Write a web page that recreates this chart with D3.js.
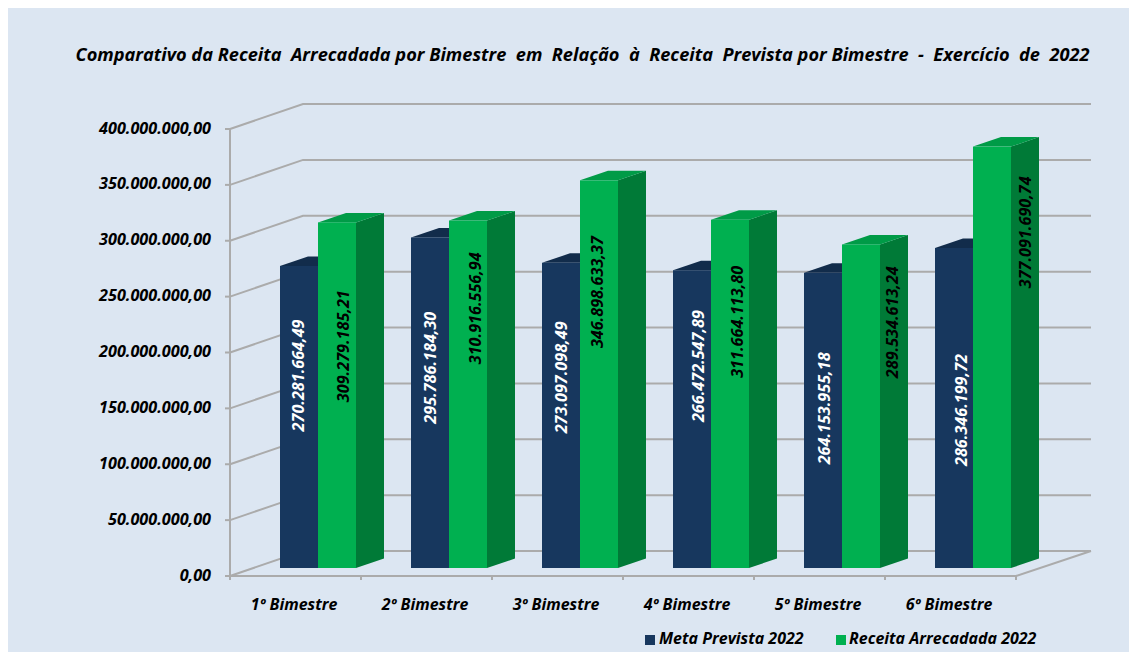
<!DOCTYPE html>
<html><head><meta charset="utf-8">
<script src="https://cdn.jsdelivr.net/npm/d3@7"></script>
<style>
html,body{margin:0;padding:0;background:#fff}
text{font-family:"Open Sans","Noto Sans",sans-serif;font-weight:700;font-style:italic;fill:#000}
</style></head><body><svg id="c" width="1129" height="652"></svg>
<script>
const categories=["1º Bimestre","2º Bimestre","3º Bimestre","4º Bimestre","5º Bimestre","6º Bimestre"];
const seriesNames=["Meta Prevista 2022","Receita Arrecadada 2022"];
const meta=[270281664.49,295786184.30,273097098.49,266472547.89,264153955.18,286346199.72];
const receita=[309279185.21,310916556.94,346898633.37,311664113.80,289534613.24,377091690.74];
const metaLabels=["270.281.664,49","295.786.184,30","273.097.098,49","266.472.547,89","264.153.955,18","286.346.199,72"];
const receitaLabels=["309.279.185,21","310.916.556,94","346.898.633,37","311.664.113,80","289.534.613,24","377.091.690,74"];
const yTicks=[0,50e6,100e6,150e6,200e6,250e6,300e6,350e6,400e6];
const yTickLabels=["0,00","50.000.000,00","100.000.000,00","150.000.000,00","200.000.000,00","250.000.000,00","300.000.000,00","350.000.000,00","400.000.000,00"];
const titleText="Comparativo da Receita  Arrecadada por Bimestre  em  Relação  à  Receita  Prevista por Bimestre  -  Exercício  de  2022";

// manual nudges of the value labels, relative to the centre of each bar's front face
const metaNudge=[[-1,-41.5],[0,-35],[0,-38],[6,-53],[1,-12],[7,2]];
const receitaNudge=[[6,-49],[7,-86],[-2,-82],[7,-72],[31,-84],[33,-125]];

const svg=d3.select("#c");
svg.append("rect").attr("x",8).attr("y",8).attr("width",1121).attr("height",644).attr("fill","#DCE6F2");

const x=d3.scaleBand().domain(categories).range([230,1016]);
const y=d3.scaleLinear().domain([0,400e6]).range([576,129]);
const wall={dx:73,dy:-25}, inset={dy:-8}, depth={dx:28,dy:-9.5};
const barW=38, barOff=50;
const grid="#ABABAB";

const gl=svg.append("g").attr("fill","none").attr("stroke",grid).attr("stroke-width",2);
yTicks.forEach(t=>{
  gl.append("polyline").attr("points",[[230,y(t)],[230+wall.dx,y(t)+wall.dy],[1016+wall.dx+2,y(t)+wall.dy]].join(" "));
  gl.append("line").attr("x1",225).attr("x2",230).attr("y1",y(t)).attr("y2",y(t));
});
gl.append("line").attr("x1",230).attr("x2",230).attr("y1",y(0)+4).attr("y2",y(400e6));
gl.append("line").attr("x1",230).attr("x2",1016).attr("y1",y(0)).attr("y2",y(0));
gl.append("line").attr("x1",1016).attr("x2",1016+wall.dx+2).attr("y1",y(0)).attr("y2",y(0)+wall.dy);
categories.forEach(c=>gl.append("line").attr("x1",x(c)+x.bandwidth()).attr("x2",x(c)+x.bandwidth()).attr("y1",y(0)).attr("y2",y(0)+4));

const base=y(0)+inset.dy;
function bar(g,bx,v,front,top,side){
  const t=y(v)+inset.dy, d=depth;
  g.append("path").attr("fill",side).attr("d",`M${bx+barW},${t}L${bx+barW+d.dx},${t+d.dy}L${bx+barW+d.dx},${base+d.dy}L${bx+barW},${base}Z`);
  g.append("path").attr("fill",top).attr("d",`M${bx},${t}L${bx+d.dx},${t+d.dy}L${bx+barW+d.dx},${t+d.dy}L${bx+barW},${t}Z`);
  g.append("rect").attr("x",bx).attr("y",t).attr("width",barW).attr("height",base-t).attr("fill",front);
}
const bars=svg.append("g");
categories.forEach((c,i)=>{
  const b0=x(c)+barOff;
  bar(bars,b0,meta[i],"#17375E","#122C4B","#122C4B");
  bar(bars,b0+barW,receita[i],"#00B050","#009B47","#007A37");
});
function vlabel(cx,v,txt,col,n){
  const t=y(v)+inset.dy, cy=(t+base)/2+n[1];
  svg.append("text").attr("transform",`translate(${cx+n[0]},${cy}) rotate(-90)`).attr("text-anchor","middle").attr("dominant-baseline","central")
    .attr("font-size",16.2).style("fill",col).text(txt);
}
categories.forEach((c,i)=>{
  const b0=x(c)+barOff;
  vlabel(b0+barW/2,meta[i],metaLabels[i],"#fff",metaNudge[i]);
  vlabel(b0+barW*1.5,receita[i],receitaLabels[i],"#000",receitaNudge[i]);
});
yTicks.forEach((t,i)=>svg.append("text").attr("x",211).attr("y",y(t)+4.5).attr("text-anchor","end").attr("font-size",16.2).text(yTickLabels[i]));
categories.forEach(c=>svg.append("text").attr("x",x(c)+x.bandwidth()/2-1.5).attr("y",610).attr("text-anchor","middle").attr("font-size",16).text(c));
svg.append("text").attr("x",582.5).attr("y",60.5).attr("text-anchor","middle").attr("font-size",18.2).style("white-space","pre").text(titleText);
const lg=[[645,659],[836,849]];
const colors=["#17375E","#00B050"];
seriesNames.forEach((s,i)=>{
  svg.append("rect").attr("x",lg[i][0]).attr("y",635).attr("width",10).attr("height",10).attr("fill",colors[i]);
  svg.append("text").attr("x",lg[i][1]).attr("y",644).attr("font-size",16).text(s);
});
</script></body></html>
